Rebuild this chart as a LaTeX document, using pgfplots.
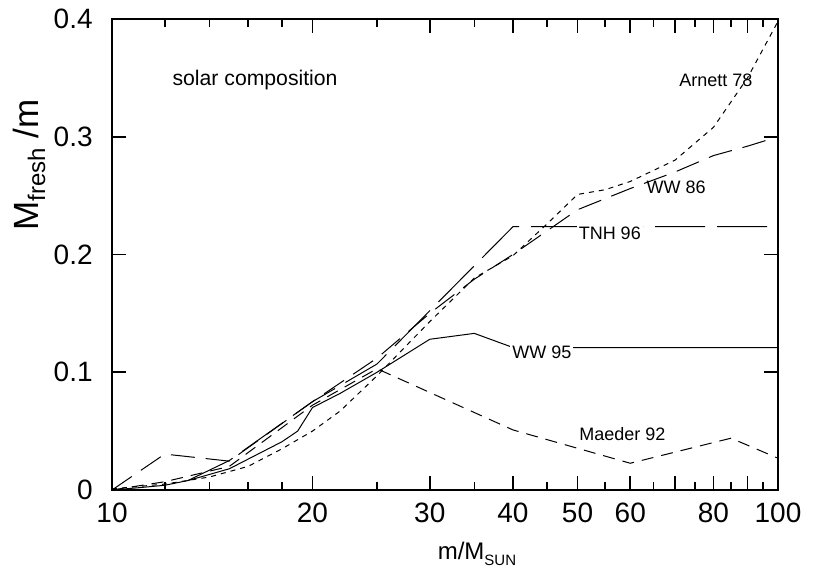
\documentclass[border=0pt]{standalone}
\usepackage{pgfplots}
\pgfplotsset{compat=1.18}
\usepackage{fontspec}
\setmainfont{Liberation Sans}
\newcommand{\lab}{\fontsize{9}{11}\selectfont}
\begin{document}
\begin{tikzpicture}
\begin{axis}[
 name=ax,
 xmode=log,
 scale only axis, width=333pt, height=235.5pt,
 xmin=10, xmax=100, ymin=0, ymax=0.4,
 axis line style={line width=1pt},
 xtick={10,20,30,40,50,60,70,80,90,100},
 xticklabels={10,20,30,40,50,60,,80,,100},
 minor xtick={12,14,16,18,25,35,45,55,65,75,85,95},
 ytick={0,0.1,0.2,0.3,0.4},
 yticklabels={0,0.1,0.2,0.3,0.4},
 tick align=inside,
 major tick length=7pt, minor tick length=4pt,
 tick style={line width=0.8pt, black},
 ticklabel style={font=\fontsize{14}{16}\selectfont, inner sep=0pt},
 xticklabel style={yshift=-6.5pt},
 yticklabel style={xshift=-9.5pt},
 xlabel={\fontsize{12}{14}\selectfont m/M\raisebox{-3pt}{\fontsize{7.5}{9}\selectfont SUN}},
 xlabel style={at={(axis description cs:0.548,-0.1486)}, anchor=base},
 ylabel={\fontsize{17.5}{19}\selectfont M\raisebox{-3.5pt}{\fontsize{12}{13}\selectfont fresh} /m},
 ylabel style={at={(axis description cs:-0.1246,0.69)}, anchor=center},
 every axis plot/.append style={line width=0.5pt, black},
]
% Arnett 78
\addplot[dash pattern=on 2.5pt off 2.5pt] coordinates {
(10,0.001)(12,0.005)(14,0.011)(16,0.02)(18,0.035)(20,0.05)(22,0.067)(25,0.097)(30,0.143)(35,0.18)(40,0.199)(45,0.226)(50,0.251)(55,0.255)(60,0.262)(70,0.28)(80,0.308)(90,0.35)(100,0.398)};
% WW 86
\addplot[dash pattern=on 12pt off 5.5pt] coordinates {
(10,0)(12,0.0305)(15,0.0245)(20,0.075)(25,0.112)(30,0.15)(35,0.179)(40,0.2)(50,0.238)(60,0.256)(70,0.27)(80,0.284)(90,0.292)(100,0.3)};
% TNH 96
\addplot[dash pattern=on 25pt off 6pt] coordinates {
(13,0.008)(15,0.025)(20,0.075)(25,0.107)(40,0.2236)(100,0.2236)};
% WW 95
\addplot[solid] coordinates {
(10,0)(11,0.002)(12,0.004)(13,0.008)(15,0.018)(18,0.041)(19,0.05)(20,0.07)(22,0.082)(25,0.1)(30,0.128)(35,0.133)(40,0.121)(100,0.121)};
% Maeder 92
\addplot[dash pattern=on 6pt off 4pt] coordinates {
(10,0)(12,0.007)(15,0.02)(20,0.072)(25,0.103)(40,0.051)(60,0.0227)(85,0.044)(100,0.027)};
\node[font=\fontsize{10.6}{12}\selectfont] at (axis cs:16.4,0.348) {solar composition};
\node[font=\lab] at (axis cs:80.7,0.348) {Arnett 78};
\node[font=\lab] at (axis cs:70.3,0.2573) {WW 86};
\node[font=\lab, fill=white, inner sep=1pt] at (axis cs:55.9,0.2178) {TNH 96};
\node[font=\lab, fill=white, inner sep=1pt] at (axis cs:44.2,0.1168) {WW 95};
\node[font=\lab] at (axis cs:58.4,0.0475) {Maeder 92};
\end{axis}
\pgfresetboundingbox
\path[use as bounding box] ([xshift=-56pt,yshift=-40pt]ax.south west) rectangle ([xshift=20.5pt,yshift=9.5pt]ax.north east);
\end{tikzpicture}
\end{document}
